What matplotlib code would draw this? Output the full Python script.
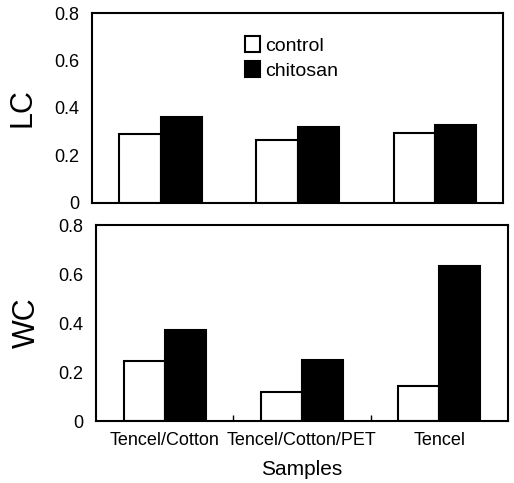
import numpy as np
import matplotlib.pyplot as plt

plt.rcParams['font.family'] = ['Liberation Sans', 'DejaVu Sans']

samples = ['Tencel/Cotton', 'Tencel/Cotton/PET', 'Tencel']
lc_control = [0.29, 0.265, 0.295]
lc_chitosan = [0.36, 0.32, 0.33]
wc_control = [0.245, 0.117, 0.143]
wc_chitosan = [0.37, 0.25, 0.635]

x = np.arange(len(samples))
w = 0.3

fig = plt.figure(figsize=(5.14, 4.83), dpi=100)
ax1 = fig.add_axes([0.179, 0.580, 0.800, 0.393])
ax2 = fig.add_axes([0.187, 0.128, 0.801, 0.406])

for ax, c, h, lab in [(ax1, lc_control, lc_chitosan, 'LC'), (ax2, wc_control, wc_chitosan, 'WC')]:
    ax.bar(x - w/2, c, w, color='white', edgecolor='black', linewidth=1.5, label='control')
    ax.bar(x + w/2, h, w, color='black', edgecolor='black', linewidth=1.5, label='chitosan')
    ax.set_xlim(-0.5, 2.5)
    ax.set_ylim(0, 0.8)
    ax.set_yticks([0, 0.2, 0.4, 0.6, 0.8])
    ax.set_yticklabels(['0', '0.2', '0.4', '0.6', '0.8'])
    ax.tick_params(axis='y', length=0, pad=9, labelsize=13)
    ax.set_ylabel(lab, fontsize=22, labelpad=12)
    for s in ax.spines.values():
        s.set_linewidth(1.5)

ax1.set_xticks([])
ax1.legend(loc='upper center', bbox_to_anchor=(0.485, 0.97), frameon=False, fontsize=14,
           handlelength=0.75, handleheight=0.9, handletextpad=0.25, labelspacing=0.3)

ax2.set_xticks(x)
ax2.set_xticklabels(samples, fontsize=13)
ax2.tick_params(axis='x', length=0, pad=8)
ax2.set_xticks([0.5, 1.5], minor=True)
ax2.tick_params(axis='x', which='minor', direction='in', length=4, width=1)
ax2.set_xlabel('Samples', fontsize=15, labelpad=8)

fig.savefig('out.png', dpi=100)
